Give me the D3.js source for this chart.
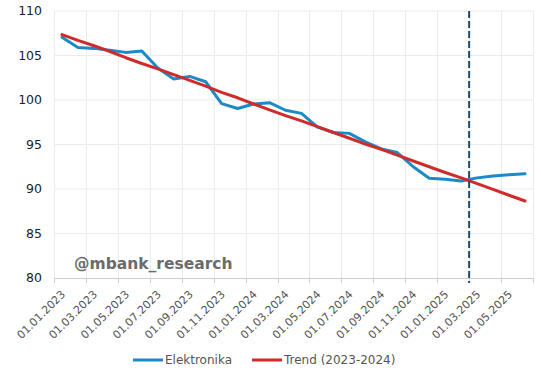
<!DOCTYPE html>
<html>
<head>
<meta charset="utf-8">
<script src="https://cdn.jsdelivr.net/npm/d3@7"></script>
<style>
  body { margin: 0; background: #fff; }
  svg { display: block; font-family: "DejaVu Sans", Verdana, sans-serif; }
</style>
</head>
<body>
<svg id="chart" width="541" height="376"></svg>
<script>
// Monthly observations, Jan 2023 – Jun 2025
const months = ["01.01.2023","01.02.2023","01.03.2023","01.04.2023","01.05.2023","01.06.2023",
  "01.07.2023","01.08.2023","01.09.2023","01.10.2023","01.11.2023","01.12.2023",
  "01.01.2024","01.02.2024","01.03.2024","01.04.2024","01.05.2024","01.06.2024",
  "01.07.2024","01.08.2024","01.09.2024","01.10.2024","01.11.2024","01.12.2024",
  "01.01.2025","01.02.2025","01.03.2025","01.04.2025","01.05.2025","01.06.2025"];
const elektronika = [107.05,105.9,105.8,105.6,105.35,105.5,103.6,102.35,102.65,102.05,99.6,99.05,
  99.55,99.7,98.85,98.5,96.95,96.35,96.25,95.3,94.5,94.1,92.5,91.2,91.1,90.9,91.25,91.45,91.6,91.7];
const trend = [107.35,106.7,106.1,105.45,104.75,104.1,103.5,102.85,102.2,101.55,100.85,100.25,
  99.55,98.9,98.25,97.65,97.0,96.35,95.7,95.05,94.45,93.8,93.15,92.5,91.85,91.25,90.6,89.95,89.3,88.65];
const yTicks = [80,85,90,95,100,105,110];
const seriesNames = ["Elektronika","Trend (2023-2024)"];
const markerMonth = "01.03.2025"; // dashed vertical line (start of this month's bin)
const watermark = "@mbank_research";

const colors = {blue: "#1b8ac6", red: "#d02b2b", dash: "#1d4d6b"};

const svg = d3.select("#chart");
const L = 54, R = 533, T = 11, B = 278;
const n = months.length;

// bins: month i occupies [i, i+1]; point at centre
const x = d3.scaleLinear().domain([0, n]).range([L, R]);
const y = d3.scaleLinear().domain([80, 110]).range([B, T]);
const px = i => x(i + 0.5);

// gridlines
const g = svg.append("g");
g.selectAll("line.h").data(yTicks.filter(v => v !== 80)).enter().append("line")
  .attr("x1", L).attr("x2", R).attr("y1", d => y(d)).attr("y2", d => y(d))
  .attr("stroke", "#ebebeb").attr("stroke-width", 1);
const vticks = d3.range(0, n + 1, 2);
g.selectAll("line.v").data(vticks).enter().append("line")
  .attr("x1", d => Math.round(x(d)) + 0.5).attr("x2", d => Math.round(x(d)) + 0.5)
  .attr("y1", T).attr("y2", B)
  .attr("stroke", "#ebebeb").attr("stroke-width", 1);

// x axis baseline + ticks
svg.append("line").attr("x1", L).attr("x2", R).attr("y1", Math.round(y(80)) + 0.5).attr("y2", Math.round(y(80)) + 0.5)
  .attr("stroke", "#cfcfcf").attr("stroke-width", 1);
svg.selectAll("line.tick").data(vticks).enter().append("line")
  .attr("x1", d => Math.round(x(d)) + 0.5).attr("x2", d => Math.round(x(d)) + 0.5)
  .attr("y1", Math.round(y(80))).attr("y2", Math.round(y(80)) + 5)
  .attr("stroke", "#cfcfcf");

// y labels
svg.selectAll("text.yl").data(yTicks).enter().append("text")
  .attr("x", 42).attr("y", d => y(d)).attr("dy", "0.35em")
  .attr("text-anchor", "end").attr("font-size", 12.5).attr("fill", "#222")
  .text(d => d);

// x labels (every second month)
const labIdx = d3.range(0, n, 2);
svg.selectAll("text.xl").data(labIdx).enter().append("text")
  .attr("transform", i => `translate(${px(i) + 4},${295}) rotate(-45)`)
  .attr("text-anchor", "end").attr("font-size", 11).attr("fill", "#555")
  .text(i => months[i]);

// watermark
svg.append("text").attr("x", 74).attr("y", 269).attr("font-size", 15.5).attr("font-weight", "bold")
  .attr("fill", "#6b6b6b").text(watermark);

// lines
const line = d3.line().x((d, i) => px(i)).y(d => y(d));
svg.append("path").datum(elektronika).attr("d", line).attr("fill", "none")
  .attr("stroke", colors.blue).attr("stroke-width", 3).attr("stroke-linejoin", "round").attr("stroke-linecap", "round");
svg.append("path").datum(trend).attr("d", line).attr("fill", "none")
  .attr("stroke", colors.red).attr("stroke-width", 3).attr("stroke-linejoin", "round").attr("stroke-linecap", "round");

// dashed marker line
const mi = months.indexOf(markerMonth);
svg.append("line").attr("x1", x(mi)).attr("x2", x(mi)).attr("y1", T).attr("y2", B + 5)
  .attr("stroke", colors.dash).attr("stroke-width", 2).attr("stroke-dasharray", "7,3");

// legend
const leg = svg.append("g").attr("transform", "translate(0,360)");
const legItems = [{name: seriesNames[0], color: colors.blue, x: 133}, {name: seriesNames[1], color: colors.red, x: 252}];
legItems.forEach(it => {
  leg.append("line").attr("x1", it.x).attr("x2", it.x + 30).attr("y1", 0).attr("y2", 0)
    .attr("stroke", it.color).attr("stroke-width", 3);
  leg.append("text").attr("x", it.x + 32).attr("y", 0).attr("dy", "0.35em")
    .attr("font-size", 12).attr("fill", "#555").text(it.name);
});
</script>
</body>
</html>
